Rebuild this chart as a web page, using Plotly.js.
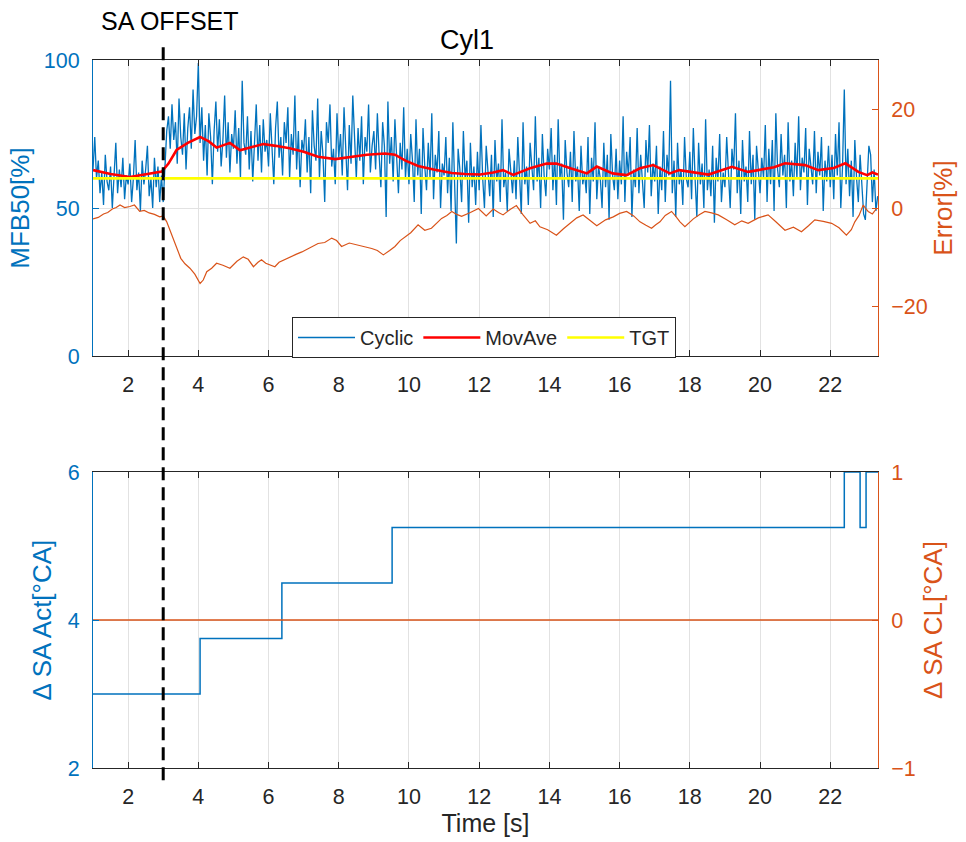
<!DOCTYPE html>
<html>
<head>
<meta charset="utf-8">
<script src="https://cdn.plot.ly/plotly-3.0.1.min.js"></script>
<style>html,body{margin:0;padding:0;background:#fff;}#chart{width:966px;height:842px;}</style>
</head>
<body>
<div id="chart"></div>
<script>
// ---- Data ----
var cycStart = 1.0;      // first sample time [s]
var cycStep = 0.05;      // sample spacing [s]
var cyclic = [
63,74,60,66,55,62,51,68,59,56,64,50,61,72,55,63,57,67,53,61,
58,65,52,60,73,56,62,49,66,58,63,71,54,60,50,67,57,64,52,61,
52,66,76,81,70,85,73,79,65,87,74,68,82,63,77,84,70,90,75,81,
99,72,84,66,78,61,82,74,58,76,86,69,80,64,73,88,67,79,62,75,
70,83,65,77,60,93,72,68,81,63,76,59,74,85,66,78,62,80,69,73,
64,82,70,58,77,86,67,74,61,79,72,84,60,75,68,88,63,76,57,73,
69,80,62,74,55,83,71,66,87,60,76,68,52,79,72,85,64,70,58,82,
67,75,61,84,70,56,78,65,88,72,60,77,66,81,58,74,69,85,62,71,
76,63,82,68,57,79,71,47,86,65,74,59,80,67,55,72,63,84,60,70,
58,75,66,52,80,61,70,48,77,64,56,72,60,82,53,68,62,76,50,65,
61,74,55,67,49,79,58,38,70,63,52,76,60,66,45,72,57,64,51,69,
56,78,60,50,71,63,54,68,47,73,59,65,52,80,57,62,49,70,61,55,
66,53,74,60,48,79,58,64,51,72,62,56,81,59,67,50,75,61,54,70,
63,77,56,68,51,80,60,65,46,73,62,57,69,52,76,59,64,49,71,58,
62,55,74,48,67,59,79,53,64,60,50,72,57,68,46,75,61,56,70,53,
66,58,81,52,69,61,74,47,63,57,77,55,68,60,50,73,62,78,54,65,
59,71,48,64,56,76,52,68,61,93,55,66,47,72,58,63,51,74,60,57,
69,53,77,60,47,72,58,65,50,80,56,63,54,71,45,67,59,75,52,62,
57,74,61,50,70,63,82,55,66,48,73,59,64,52,76,58,68,46,71,61,
55,67,60,78,52,70,58,73,49,82,63,57,75,61,68,50,79,59,66,54,
72,60,81,56,67,62,77,51,70,64,58,76,55,69,61,74,49,66,59,71,
57,68,53,75,61,79,50,64,90,58,70,54,66,47,73,60,52,68,56,48,
46,58,71,68,52,63,49,54
];

var movT = [1.0,1.5,2.05,2.5,2.96,3.15,3.38,3.7,4.05,4.3,4.52,4.9,5.19,5.5,5.85,6.2,6.6,7.0,7.41,7.9,8.37,8.8,9.32,9.6,9.9,10.26,10.7,11.22,11.6,12.03,12.4,12.68,12.97,13.45,13.92,14.2,14.6,15.07,15.35,15.8,16.2,16.58,16.96,17.43,17.7,18.06,18.53,19.2,19.66,19.95,20.4,20.71,21.28,21.66,22.1,22.43,22.8,23.05,23.2,23.36];
var movAve = [62.8,61.5,60.5,61.3,62.3,65,69.6,72,74,72.5,70.4,72,69.5,70.5,71.6,71,70.2,69,67.3,66.5,67.3,68,68.4,68,66,64.2,63,61.8,61.5,61.3,62,62.8,61.2,63.4,65,65,63.4,61.7,64,61.7,61.1,63.4,64.5,61.7,62.8,62.2,61.3,63.9,62.2,62.8,63.8,65.1,64.5,62.8,63.5,65.1,62.2,61.1,62,61.3];

var tgtT = [1.0, 23.36];
var tgt = [60, 60];

var errT = [1.0,1.15,1.3,1.42,1.55,1.66,1.77,1.9,2.05,2.18,2.33,2.46,2.6,2.75,2.9,3.0,3.1,3.2,3.3,3.4,3.5,3.62,3.76,3.9,4.05,4.14,4.24,4.38,4.52,4.7,4.9,5.1,5.28,5.42,5.57,5.7,5.8,5.92,6.04,6.18,6.3,6.45,6.6,6.78,6.95,7.2,7.41,7.6,7.8,7.94,8.08,8.3,8.56,8.75,8.94,9.1,9.27,9.45,9.6,9.75,9.89,10.05,10.26,10.45,10.64,10.8,10.93,11.08,11.22,11.36,11.5,11.75,11.98,12.2,12.4,12.55,12.68,12.88,13.06,13.25,13.45,13.6,13.73,13.95,14.2,14.4,14.58,14.78,14.96,15.15,15.35,15.6,15.82,16.0,16.2,16.4,16.58,16.75,16.91,17.03,17.15,17.3,17.48,17.6,17.72,17.86,18.1,18.28,18.43,18.62,18.81,19.05,19.28,19.48,19.66,19.95,20.23,20.45,20.71,20.95,21.18,21.38,21.56,21.8,22.04,22.25,22.46,22.6,22.7,22.82,22.94,23.02,23.08,23.2,23.32];
var err = [-2.2,-1.9,-1.2,-0.9,-0.2,0.1,0.6,0.1,0.3,0.6,-0.7,-0.5,-1.0,-1.3,-1.8,-1.6,-2.8,-4.6,-6.8,-8.6,-10.2,-11.3,-12.2,-13.4,-15.3,-14.6,-12.9,-12.2,-11.2,-11.6,-12.2,-10.8,-9.9,-10.4,-11.9,-11.0,-10.5,-11.2,-11.5,-11.9,-11.0,-10.5,-9.9,-9.4,-8.9,-7.9,-7.2,-7.0,-6.1,-6.6,-7.8,-7.1,-7.5,-7.9,-8.2,-8.6,-9.5,-8.6,-7.8,-6.6,-5.8,-5.0,-3.4,-4.5,-4.1,-3.0,-2.1,-1.5,-0.7,-1.3,-1.7,-0.9,-0.1,-1.6,-0.2,-0.9,-1.4,-0.3,0.5,-1.4,-3.1,-2.6,-3.8,-4.4,-5.5,-4.2,-3.1,-2.0,-1.4,-2.5,-3.6,-2.4,-1.8,-1.1,-0.7,-1.6,-2.8,-3.5,-4.1,-3.4,-2.8,-1.5,-0.7,-1.7,-2.8,-3.8,-2.2,-1.3,-0.7,-1.0,-1.4,-2.4,-3.4,-2.6,-3.1,-2.0,-1.4,-2.8,-4.5,-3.9,-4.8,-3.6,-2.4,-2.7,-3.1,-4.0,-5.5,-4.4,-2.8,-1.5,0.6,-0.2,-0.7,-1.2,-0.1];

var saActT = [1.0, 4.05, 6.38, 9.52, 22.4, 22.85, 23.02, 23.36];
var saAct = [3, 3.75, 4.5, 5.25, 6, 5.25, 6, 6];

var saClT = [1.0, 23.36];
var saCl = [0, 0];

var xTicks = [2,4,6,8,10,12,14,16,18,20,22];
var offsetTime = 3;

// ---- Styling ----
var BLUE = '#0072BD', ORANGE = '#D95319', AX = '#262626', GRID = '#e2e2e2';
var FONT = 'Liberation Sans, Arial, Helvetica, sans-serif';
var TICK = 21.5, LAB = 26;
var cycT = cyclic.map(function(v, i){ return cycStart + i * cycStep; });

var traces = [
  {x: cycT, y: cyclic, xaxis:'x2', yaxis:'y3', type:'scatter', mode:'lines', name:'Cyclic', legendrank:1, line:{color:BLUE, width:1.3}},
  {x: movT, y: movAve, xaxis:'x2', yaxis:'y3', type:'scatter', mode:'lines', name:'MovAve', legendrank:2, line:{color:'#FF0000', width:2.6}},
  {x: tgtT, y: tgt, xaxis:'x2', yaxis:'y3', type:'scatter', mode:'lines', name:'TGT', legendrank:3, line:{color:'#FFFF00', width:2.6}},
  {x: errT, y: err, xaxis:'x2', yaxis:'y4', type:'scatter', mode:'lines', name:'Error', showlegend:false, line:{color:ORANGE, width:1.2}},
  {x: saActT, y: saAct, xaxis:'x', yaxis:'y', type:'scatter', mode:'lines', name:'SA Act', showlegend:false, line:{color:BLUE, width:1.5, shape:'hv'}},
  {x: saClT, y: saCl, xaxis:'x', yaxis:'y2', type:'scatter', mode:'lines', name:'SA CL', showlegend:false, line:{color:ORANGE, width:1.5}}
];

function xAxis(anchor, withTitle){
  var a = {
    anchor: anchor, domain:[0,1], range:[1, 23.36], tickvals: xTicks,
    ticks:'inside', ticklen:6, tickwidth:1, tickcolor:AX,
    showline:true, linecolor:AX, linewidth:1, mirror:'ticks',
    showgrid:true, gridcolor:GRID, zeroline:false,
    tickfont:{family:FONT, size:TICK, color:AX}, ticklabelstandoff:9
  };
  if (withTitle) a.title = {text:'Time [s]', font:{family:FONT, size:25, color:AX}, standoff:4};
  return a;
}
function yAxis(opts){
  var a = {
    ticks:'inside', ticklen:6, tickwidth:1, showline:true, linewidth:1,
    zeroline:false, ticklabelstandoff:8
  };
  for (var k in opts) a[k] = opts[k];
  return a;
}

var layout = {
  width:966, height:842,
  margin:{l:93, r:88, t:60, b:74},
  paper_bgcolor:'#fff', plot_bgcolor:'#fff',
  font:{family:FONT, color:AX},
  showlegend:true,
  legend:{orientation:'h', x:0.2535, y:0.637, xanchor:'left', yanchor:'top',
          bgcolor:'#fff', bordercolor:AX, borderwidth:1, itemwidth:57,
          font:{family:FONT, size:20, color:AX}, tracegroupgap:0},
  xaxis: xAxis('y', true),
  xaxis2: Object.assign(xAxis('y3', false), {matches:'x'}),
  yaxis: yAxis({domain:[0,0.418], range:[2,6], tickvals:[2,4,6], side:'left',
     linecolor:BLUE, tickcolor:BLUE, tickfont:{family:FONT,size:TICK,color:BLUE},
     showgrid:true, gridcolor:GRID,
     title:{text:'Δ SA Act[°CA]', font:{family:FONT,size:LAB,color:BLUE}, standoff:8}}),
  yaxis2: yAxis({overlaying:'y', anchor:'x', side:'right', range:[-1,1], tickvals:[-1,0,1],
     ticktext:['−1','0','1'],
     linecolor:ORANGE, tickcolor:ORANGE, tickfont:{family:FONT,size:TICK,color:ORANGE},
     showgrid:false,
     title:{text:'Δ SA CL[°CA]', font:{family:FONT,size:LAB,color:ORANGE}, standoff:8}}),
  yaxis3: yAxis({domain:[0.5819,1], anchor:'x2', range:[0,100], tickvals:[0,50,100], side:'left',
     linecolor:BLUE, tickcolor:BLUE, tickfont:{family:FONT,size:TICK,color:BLUE},
     showgrid:true, gridcolor:GRID,
     title:{text:'MFB50[%]', font:{family:FONT,size:LAB,color:BLUE}, standoff:6}}),
  yaxis4: yAxis({overlaying:'y3', anchor:'x2', side:'right', range:[-30,30], tickvals:[-20,0,20],
     ticktext:['−20','0','20'],
     linecolor:ORANGE, tickcolor:ORANGE, tickfont:{family:FONT,size:TICK,color:ORANGE},
     showgrid:false,
     title:{text:'Error[%]', font:{family:FONT,size:LAB,color:ORANGE}, standoff:6}}),
  shapes:[
    {type:'line', xref:'x', yref:'paper', x0:offsetTime, x1:offsetTime, y0:1.018, y1:-0.026,
     line:{color:'#000', width:3, dash:'13px,7px'}, layer:'above'}
  ],
  annotations:[
    {text:'SA OFFSET', xref:'paper', yref:'paper', x:0.098, y:1.055, showarrow:false,
     xanchor:'center', yanchor:'middle', font:{family:FONT, size:25, color:'#000'}},
    {text:'Cyl1', xref:'paper', yref:'paper', x:0.4764, y:1.028, showarrow:false,
     xanchor:'center', yanchor:'middle', font:{family:FONT, size:27, color:'#000'}}
  ]
};

Plotly.newPlot('chart', traces, layout, {displayModeBar:false, staticPlot:true});
</script>
</body>
</html>
